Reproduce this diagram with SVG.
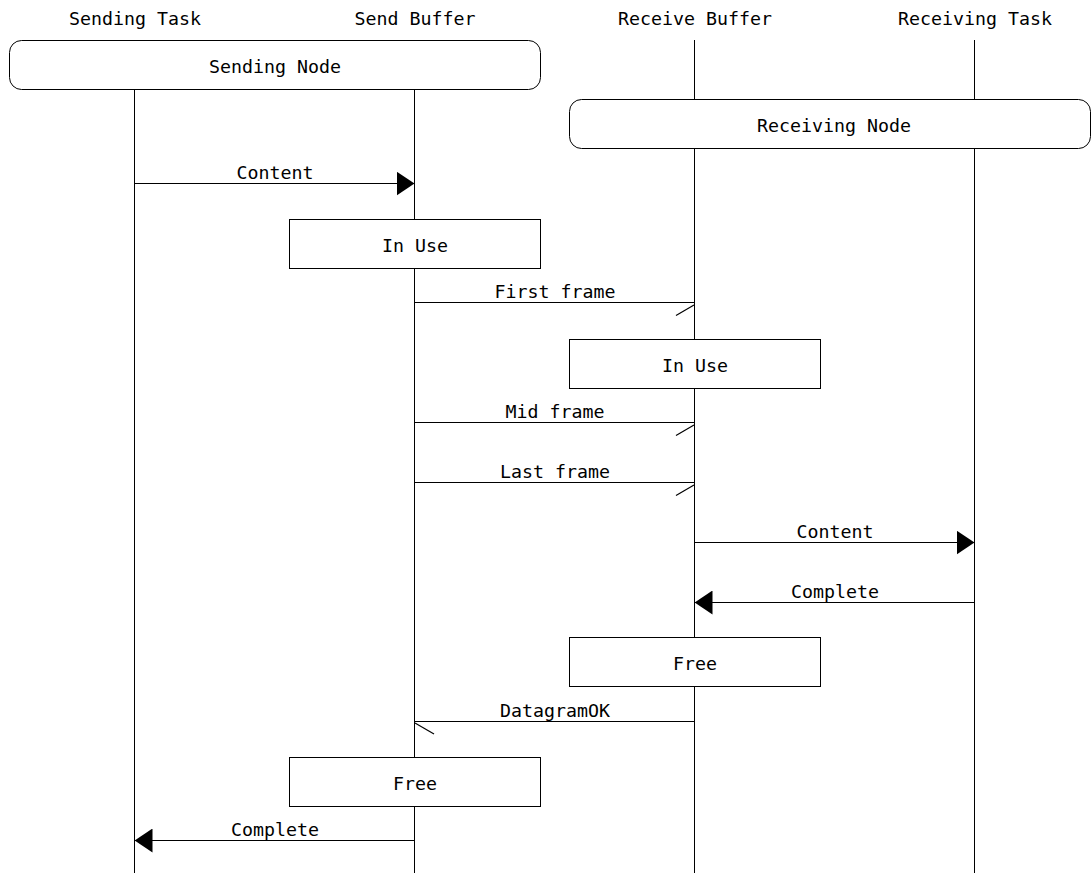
<svg xmlns="http://www.w3.org/2000/svg" width="1092" height="873" viewBox="0 0 1092 873">
<style>
text{font-family:"DejaVu Sans Mono","Liberation Mono",monospace;font-size:18.27px;fill:#000;text-anchor:middle}
.life{stroke:#000;stroke-width:1;fill:none}
.box{fill:#fff;stroke:#000;stroke-width:1}
.arc{stroke:#000;stroke-width:1;fill:none}
.half{stroke:#000;stroke-width:1.2;fill:none}
</style>
<defs>
<marker id="fill" markerUnits="userSpaceOnUse" viewBox="0 0 18 24" refX="18" refY="12" markerWidth="18" markerHeight="24" orient="auto">
<path d="M0,0 L18,12 L0,24 z" fill="#000"/>
</marker>
</defs>
<rect width="1092" height="873" fill="#fff"/>
<g id="entity-sending-task">
<text x="135" y="25">Sending Task</text>
<line class="life" x1="134.5" y1="40" x2="134.5" y2="873"/>
</g>
<g id="entity-send-buffer">
<text x="415" y="25">Send Buffer</text>
<line class="life" x1="414.5" y1="40" x2="414.5" y2="873"/>
</g>
<g id="entity-receive-buffer">
<text x="695" y="25">Receive Buffer</text>
<line class="life" x1="694.5" y1="40" x2="694.5" y2="873"/>
</g>
<g id="entity-receiving-task">
<text x="975" y="25">Receiving Task</text>
<line class="life" x1="974.5" y1="40" x2="974.5" y2="873"/>
</g>
<g id="sending-node">
<rect class="box" x="9.5" y="40.5" width="531" height="49" rx="12" ry="12"/>
<text x="275" y="73">Sending Node</text>
</g>
<g id="receiving-node">
<rect class="box" x="569.5" y="99.5" width="521" height="49" rx="12" ry="12"/>
<text x="834" y="132">Receiving Node</text>
</g>
<g id="send-buffer-in-use">
<rect class="box" x="289.5" y="219.5" width="251" height="49"/>
<text x="415" y="251.5">In Use</text>
</g>
<g id="receive-buffer-in-use">
<rect class="box" x="569.5" y="339.5" width="251" height="49"/>
<text x="695" y="371.5">In Use</text>
</g>
<g id="receive-buffer-free">
<rect class="box" x="569.5" y="637.5" width="251" height="49"/>
<text x="695" y="669.5">Free</text>
</g>
<g id="send-buffer-free">
<rect class="box" x="289.5" y="757.5" width="251" height="49"/>
<text x="415" y="789.5">Free</text>
</g>
<g id="connectors">
<line class="arc" x1="134.5" y1="183.5" x2="414.5" y2="183.5" marker-end="url(#fill)"/>
<text x="275" y="179">Content</text>
<line class="arc" x1="414.5" y1="302.5" x2="694.5" y2="302.5"/>
<path class="half" d="M694,305 L676,315.5"/>
<text x="555" y="298">First frame</text>
<line class="arc" x1="414.5" y1="422.5" x2="694.5" y2="422.5"/>
<path class="half" d="M694,425 L676,435.5"/>
<text x="555" y="418">Mid frame</text>
<line class="arc" x1="414.5" y1="482.5" x2="694.5" y2="482.5"/>
<path class="half" d="M694,485 L676,495.5"/>
<text x="555" y="478">Last frame</text>
<line class="arc" x1="694.5" y1="542.5" x2="974.5" y2="542.5" marker-end="url(#fill)"/>
<text x="835" y="538">Content</text>
<line class="arc" x1="974.5" y1="602.5" x2="694.5" y2="602.5" marker-end="url(#fill)"/>
<text x="835" y="598">Complete</text>
<line class="arc" x1="694.5" y1="721.5" x2="414.5" y2="721.5"/>
<path class="half" d="M415,723 L434,734"/>
<text x="555" y="717">DatagramOK</text>
<line class="arc" x1="414.5" y1="840.5" x2="134.5" y2="840.5" marker-end="url(#fill)"/>
<text x="275" y="836">Complete</text>
</g>
</svg>
